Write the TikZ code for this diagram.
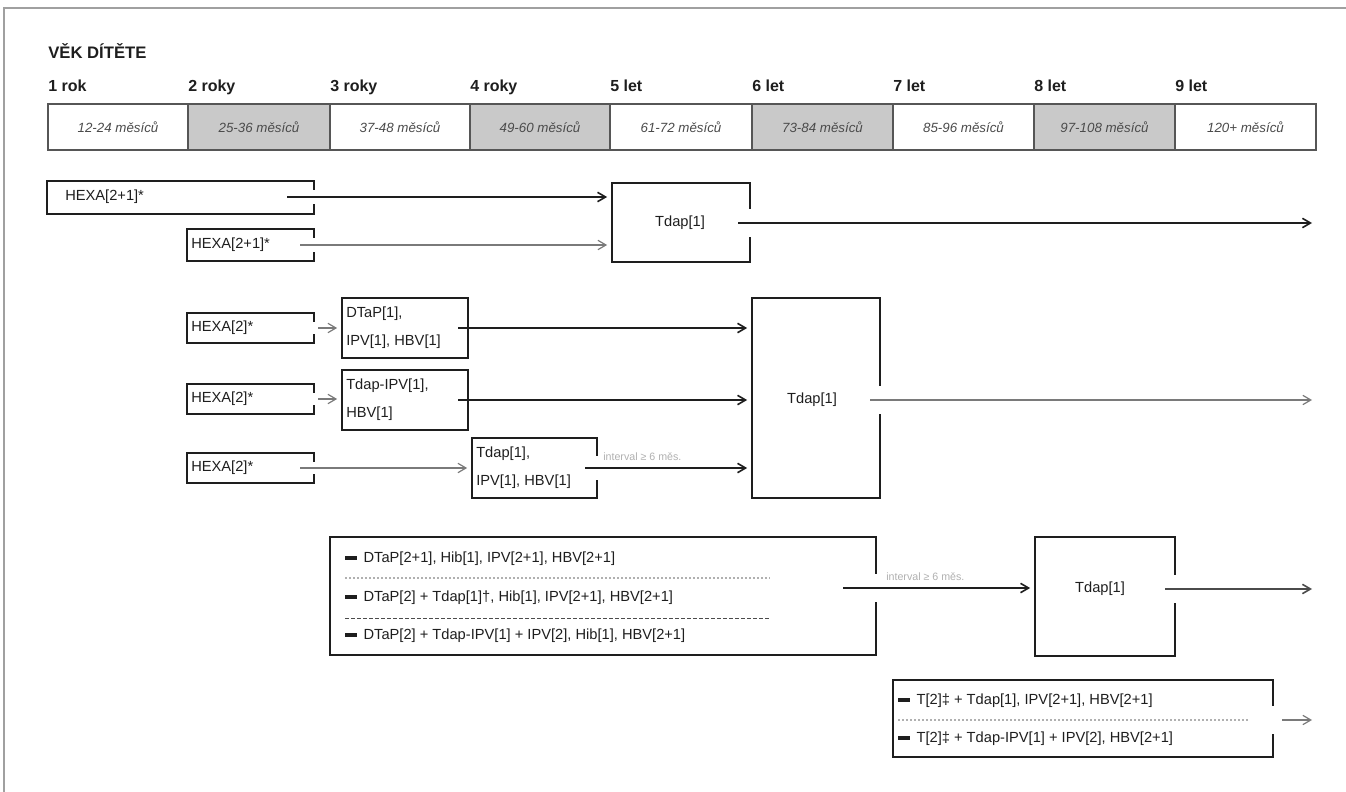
\documentclass[tikz,border=0pt]{standalone}
\usepackage{fontspec}
\setmainfont{Liberation Sans}
\usetikzlibrary{arrows.meta,fit}
\newcommand{\blt}{\rule[0.2em]{0.8em}{0.25em}\hspace{0.45em}}
\newcommand{\gapat}[3]{\fill[white] (#1-4,#2-#3) rectangle (#1+4,#2+#3);}
\definecolor{ink}{HTML}{1E1E1E}
\definecolor{lgray}{HTML}{7A7A7A}
\definecolor{cellg}{HTML}{C9C9C9}
\definecolor{frameg}{HTML}{A0A0A0}
\definecolor{labg}{HTML}{B0B0B0}
\tikzset{
 box/.style={draw=ink, line width=1.3pt, inner sep=0pt},
 boxtext/.style={inner sep=0pt, anchor=center, font=\fontsize{11}{13}\selectfont, text=ink},
 cell/.style={draw=ink!75, line width=1pt, inner sep=0pt},
 celltext/.style={inner sep=0pt, anchor=center, font=\fontsize{10}{12}\selectfont\itshape, text=ink!80},
 txt/.style={anchor=west, inner sep=0pt, font=\fontsize{11}{13}\selectfont, text=ink},
 twoline/.style={anchor=north west, inner sep=0pt, align=left, font=\fontsize{11}{21}\selectfont, text=ink},
 year/.style={anchor=base west, inner sep=0pt, font=\fontsize{12}{14}\selectfont\bfseries, text=ink},
 arrB/.style={draw=ink, line width=1.2pt, -{Straight Barb[length=6pt,width=7pt]}, shorten >=3pt},
 arrG/.style={draw=lgray, line width=0.9pt, -{Straight Barb[length=6pt,width=7pt]}, shorten >=3pt},
 sepdot/.style={draw=labg, line width=0.8pt, dash pattern=on 1.5pt off 1.5pt},
 sepdash/.style={draw=ink!80, line width=0.7pt, dash pattern=on 3pt off 1.5pt},
 lab/.style={inner sep=0pt, anchor=base west, font=\fontsize{8}{10}\selectfont, text=labg},
 frame/.style={draw=frameg, line width=1.2pt},
}
\begin{document}
\begin{tikzpicture}[x=0.75pt,y=-0.75pt]
\useasboundingbox (0,0) rectangle (1346,792);
\draw[frame] (4,792) -- (4,8) -- (1346,8);

% header
\node[year, font=\fontsize{12.5}{14}\selectfont\bfseries] (title) at (48,59) {VĚK DÍTĚTE};
\foreach \x/\t [count=\i] in {48/1 rok,188/2 roky,330/3 roky,470/4 roky,610/5 let,752/6 let,893/7 let,1034/8 let,1175/9 let}
 {\node[year] (yr\i) at (\x,92) {\t};}
\foreach \a/\b/\t/\f [count=\i] in {48/188/12-24 měsíců/white, 188/330/25-36 měsíců/cellg, 330/470/37-48 měsíců/white, 470/610/49-60 měsíců/cellg, 610/752/61-72 měsíců/white, 752/893/73-84 měsíců/cellg, 893/1034/85-96 měsíců/white, 1034/1175/97-108 měsíců/cellg, 1175/1316/120+ měsíců/white}
 {\node[cell, fill=\f, fit={(\a,104)(\b,150)}] (mo\i) {};
  \node[celltext] (mt\i) at (mo\i.center) {\t};}

% row 1
\node[box, fit={(47,181)(314,214)}] (h1) {};
\node[txt] (h1t) at (65,197) {HEXA[2+1]*};
\node[box, fit={(187,229)(314,261)}] (h2) {};
\node[txt] (h2t) at (191,245) {HEXA[2+1]*};
\node[box, fit={(612,183)(750,262)}] (tA) {};
\node[boxtext] (tAt) at (680,223) {Tdap[1]};
\gapat{314}{197}{7}
\gapat{314}{245}{7}
\gapat{750}{223}{14}
\coordinate (h1o) at (287,197);
\coordinate (h2o) at (300,245);
\coordinate (tAo) at (738,223);
\coordinate (endA) at (1316,223);
\draw[arrB] (h1o) -- (tA.west |- h1o);
\draw[arrG] (h2o) -- (tA.west |- h2o);
\draw[arrB] (tAo) -- (endA);

% row 2
\node[box, fit={(187,313)(314,343)}] (x1) {};
\node[txt] (x1t) at (191,328) {HEXA[2]*};
\node[box, fit={(187,384)(314,414)}] (x2) {};
\node[txt] (x2t) at (191,399) {HEXA[2]*};
\node[box, fit={(187,453)(314,483)}] (x3) {};
\node[txt] (x3t) at (191,468) {HEXA[2]*};
\gapat{314}{328}{6}
\gapat{314}{399}{6}
\gapat{314}{468}{6}
\node[box, fit={(342,298)(468,358)}] (d1) {};
\node[twoline] (d1t) at (346,307) {DTaP[1],\\IPV[1], HBV[1]};
\node[box, fit={(342,370)(468,430)}] (d2) {};
\node[twoline] (d2t) at (346,379) {Tdap-IPV[1],\\HBV[1]};
\node[box, fit={(472,438)(597,498)}] (d3) {};
\node[twoline] (d3t) at (476,447) {Tdap[1],\\IPV[1], HBV[1]};
\gapat{597}{468}{12}
\node[box, fit={(752,298)(880,498)}] (tB) {};
\node[boxtext] (tBt) at (812,400) {Tdap[1]};
\gapat{880}{400}{14}
\coordinate (x1o) at (318,328);
\coordinate (x2o) at (318,399);
\coordinate (x3o) at (300,468);
\draw[arrG] (x1o) -- (d1.west |- x1o);
\draw[arrG] (x2o) -- (d2.west |- x2o);
\draw[arrG] (x3o) -- (d3.west |- x3o);
\coordinate (d1o) at (458,328);
\coordinate (d2o) at (458,400);
\coordinate (d3o) at (585,468);
\draw[arrB] (d1o) -- (tB.west |- d1o);
\draw[arrB] (d2o) -- (tB.west |- d2o);
\draw[arrB] (d3o) -- (tB.west |- d3o);
\node[lab] (l1) at (603,460) {interval ≥ 6 měs.};
\coordinate (tBo) at (870,400);
\coordinate (endB) at (1316,400);
\draw[arrG] (tBo) -- (endB);

% row 3
\node[box, fit={(330,537)(876,655)}] (r3) {};
\node[txt] (r3a) at (345,559) {\blt DTaP[2+1], Hib[1], IPV[2+1], HBV[2+1]};
\node[txt] (r3b) at (345,598) {\blt DTaP[2] + Tdap[1]†, Hib[1], IPV[2+1], HBV[2+1]};
\node[txt] (r3c) at (345,636) {\blt DTaP[2] + Tdap-IPV[1] + IPV[2], Hib[1], HBV[2+1]};
\draw[sepdot] (345,578) -- (770,578);
\draw[sepdash] (345,618) -- (770,618);
\gapat{876}{588}{14}
\node[box, fit={(1035,537)(1175,656)}] (tC) {};
\node[boxtext] (tCt) at (1100,589) {Tdap[1]};
\gapat{1175}{589}{14}
\coordinate (r3o) at (843,588);
\draw[arrB] (r3o) -- (tC.west |- r3o);
\node[lab] (l2) at (886,580) {interval ≥ 6 měs.};
\coordinate (tCo) at (1165,589);
\coordinate (endC) at (1316,589);
\draw[arrB, draw=ink!80] (tCo) -- (endC);

% row 4
\node[box, fit={(893,680)(1273,757)}] (r4) {};
\node[txt] (r4a) at (898,701) {\blt T[2]‡ + Tdap[1], IPV[2+1], HBV[2+1]};
\node[txt] (r4b) at (898,739) {\blt T[2]‡ + Tdap-IPV[1] + IPV[2], HBV[2+1]};
\draw[sepdot] (898,720) -- (1250,720);
\gapat{1273}{720}{14}
\coordinate (r4o) at (1282,720);
\coordinate (endD) at (1316,720);
\draw[arrG] (r4o) -- (endD);
\end{tikzpicture}
\end{document}
